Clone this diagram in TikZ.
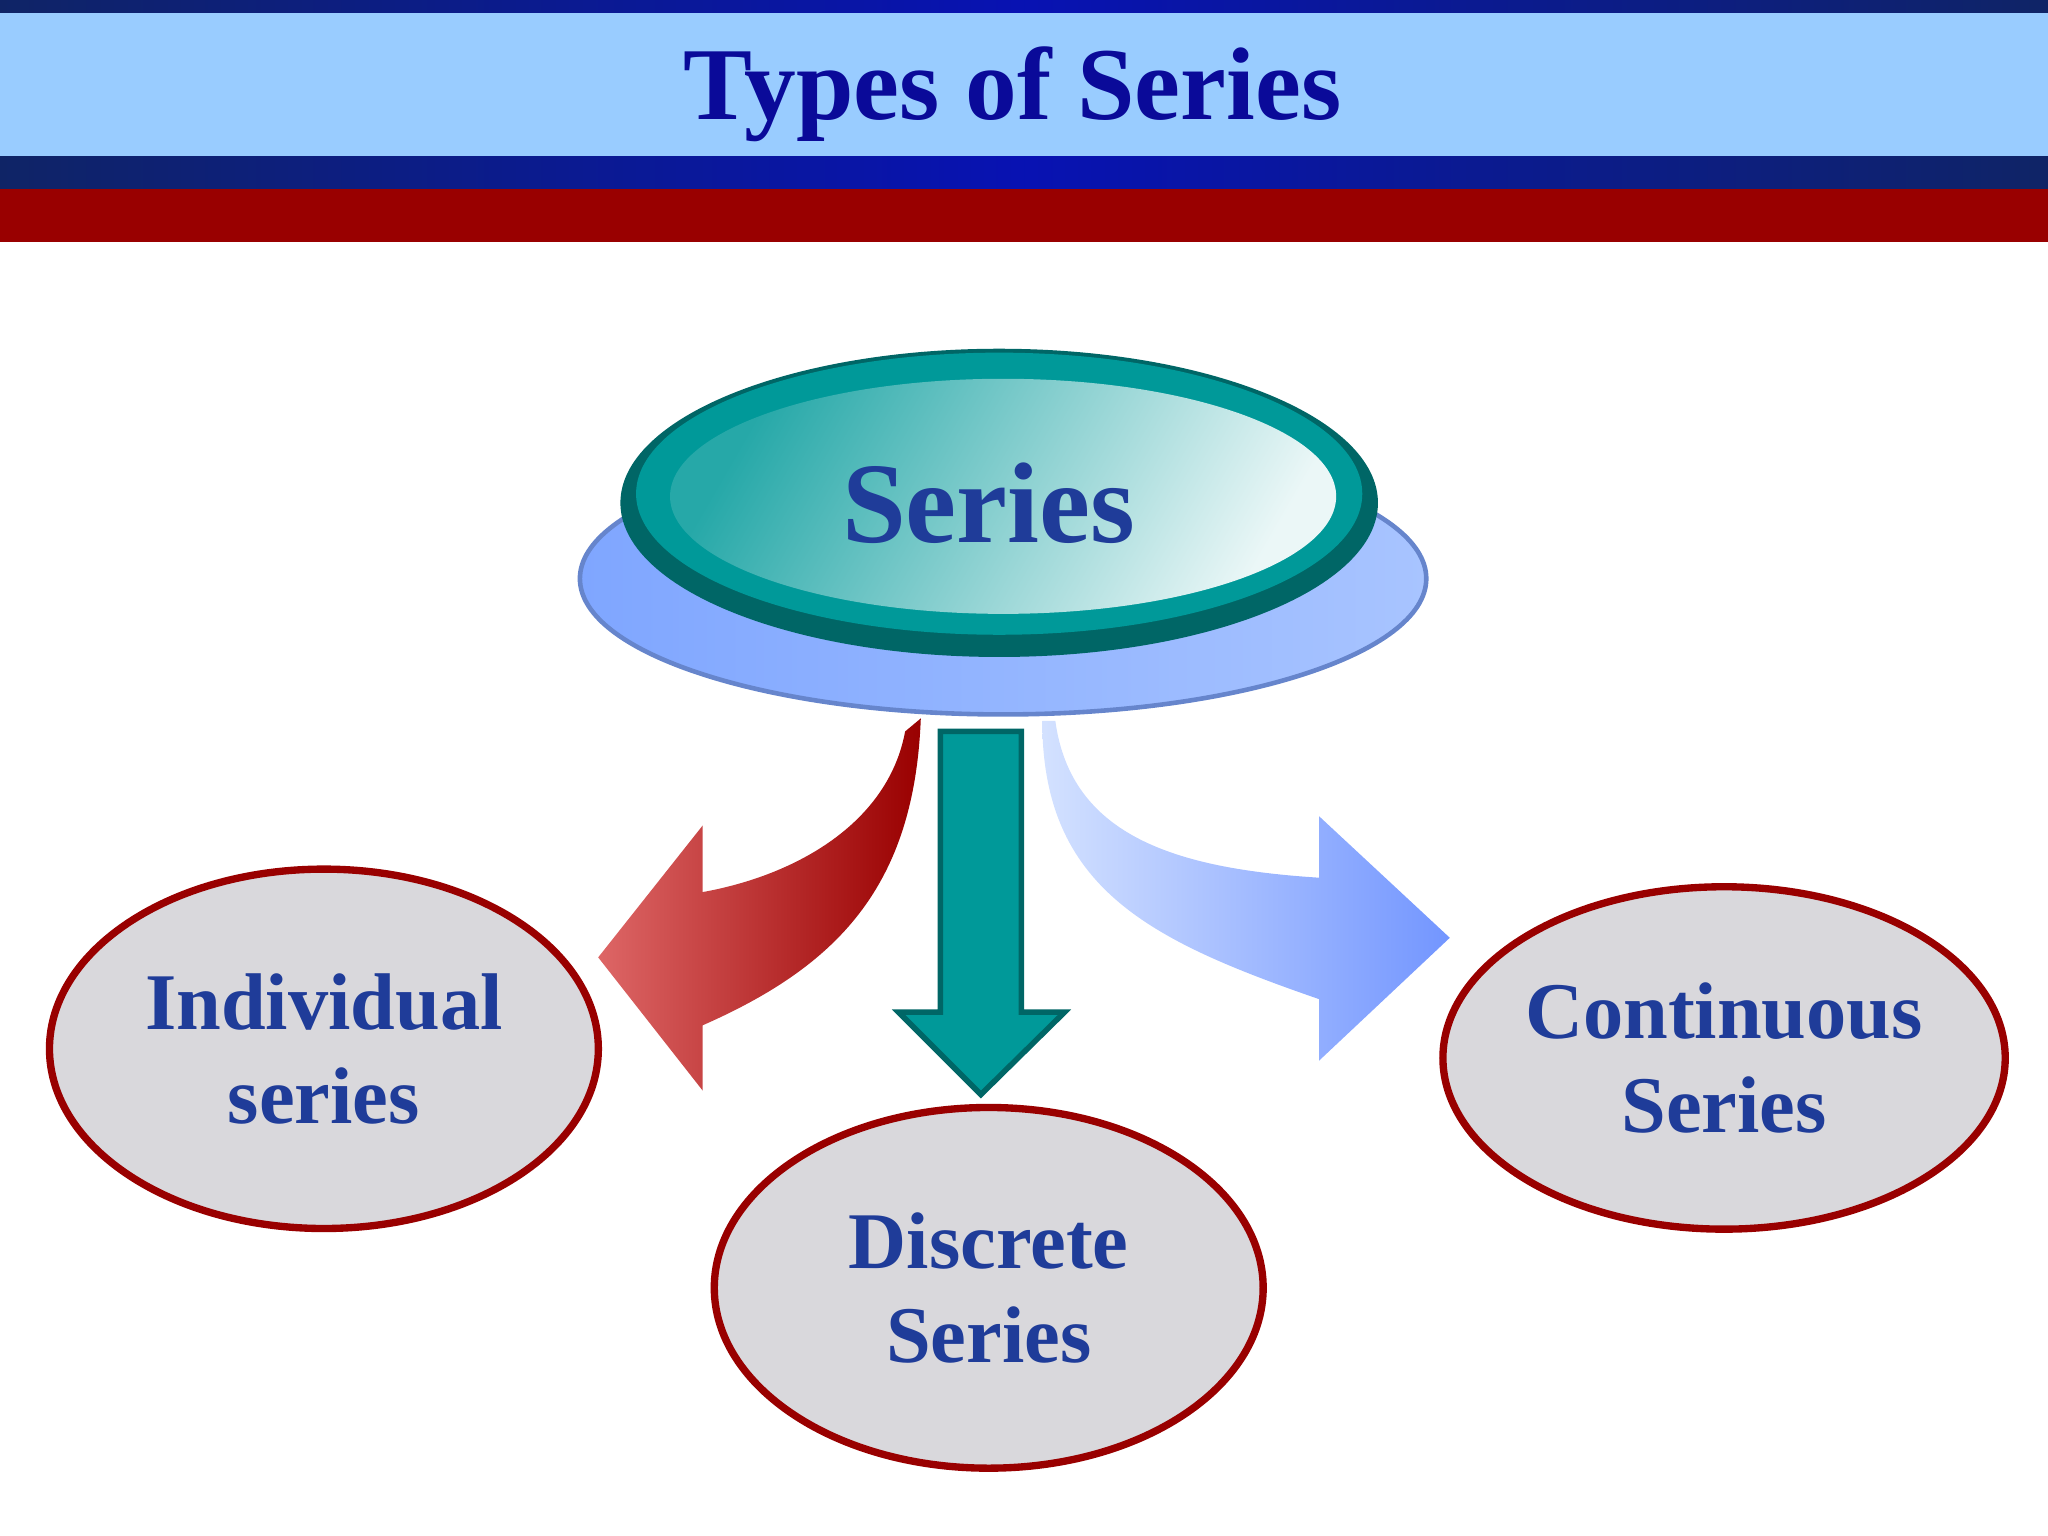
\documentclass[tikz,border=0pt]{standalone}
\usepackage{fontspec}
\setmainfont{Liberation Serif}
\usetikzlibrary{shapes.geometric}
\definecolor{navy}{HTML}{0F2466}
\definecolor{skyband}{HTML}{99CCFF}
\definecolor{redband}{HTML}{990000}
\definecolor{titleblue}{HTML}{0A0A99}
\definecolor{txtblue}{HTML}{1F3C99}
\definecolor{teal}{HTML}{009999}
\definecolor{darkteal}{HTML}{006666}
\definecolor{bubble}{HTML}{D9D8DC}
\definecolor{disc}{HTML}{7FA6FF}
\definecolor{discl}{HTML}{A8C4FF}
\tikzset{
  leaf/.style={ellipse, draw=redband, line width=1.6pt, fill=bubble, inner sep=0pt,
    text=txtblue, align=center,
    font=\bfseries\fontsize{17.5}{20.5}\selectfont}
}
\begin{document}
\begin{tikzpicture}[x=0.01cm,y=-0.01cm]
\useasboundingbox (0,0) rectangle (1568,1176);
% header bands
\shade[left color=navy, right color=navy, middle color=blue!50!navy] (0,0) rectangle (1568,10);
\fill[skyband] (0,10) rectangle (1568,120);
\shade[left color=navy, right color=navy, middle color=blue!50!navy] (0,120) rectangle (1568,145);
\fill[redband] (0,145) rectangle (1568,185);
\node (title) at (775,72) [text=titleblue, font=\bfseries\fontsize{22.5}{26}\selectfont] {Types of Series};
% central disc
\shade[left color=disc, right color=discl, draw=disc!80!black, line width=1pt]
  (768,443) ellipse (324 and 104);
\fill[darkteal] (765,385) ellipse (290 and 118);
\fill[teal] (765,378) ellipse (278 and 108);
\shade[left color=teal!85!white, right color=teal!8!white, shading angle=60]
  (768,380) ellipse (255 and 90);
\node (series) at (757,385) [text=txtblue, font=\bfseries\fontsize{25}{30}\selectfont] {Series};
% leaves
\node (indiv) at (248,803) [leaf, minimum width=4.2cm, minimum height=2.75cm] {Individual\\series};
\node (disc) at (757,986) [leaf, minimum width=4.2cm, minimum height=2.76cm] {Discrete\\Series};
\node (cont) at (1320,810) [leaf, minimum width=4.2cm, minimum height=2.62cm] {Continuous\\Series};
% arrows
\shade[left color=red!45!redband!60!white, right color=redband]
  (693,560) .. controls (680,630) and (610,670) .. (538,683) -- (538,632) -- (458,733)
  -- (538,835) -- (538,785) .. controls (640,740) and (700,680) .. (705,550) -- cycle;
\filldraw[fill=teal, draw=darkteal, line width=1.2pt]
  (720,560) -- (782,560) -- (782,775) -- (815,775) -- (751,838) -- (688,775) -- (720,775) -- cycle;
\shade[left color=discl!50!white, right color=disc!90!blue]
  (808,552) .. controls (820,640) and (900,665) .. (1010,672) -- (1010,625) -- (1110,718)
  -- (1010,812) -- (1010,765) .. controls (880,720) and (798,680) .. (798,552) -- cycle;
\end{tikzpicture}
\end{document}
